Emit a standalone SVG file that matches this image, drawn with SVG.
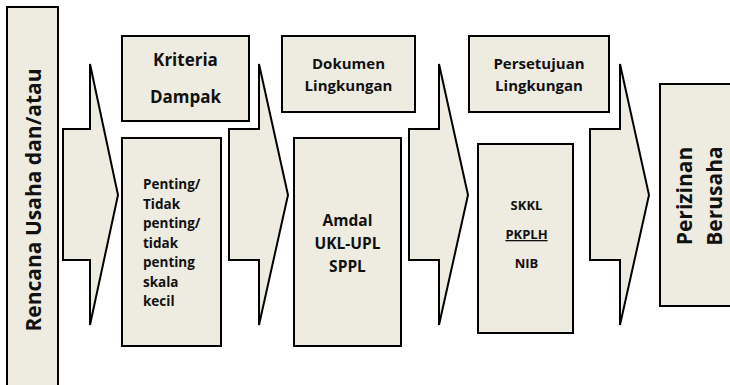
<svg xmlns="http://www.w3.org/2000/svg" width="730" height="385" viewBox="0 0 730 385">
  <style>
    .box { fill: #EEECE1; stroke: #000; stroke-width: 2; }
    .arrow { fill: #EEECE1; stroke: #000; stroke-width: 2; stroke-linejoin: miter; }
    text { font-family: "Open Sans", "Liberation Sans", sans-serif; font-weight: bold; fill: #111; }
    .c { text-anchor: middle; }
  </style>
  <rect width="730" height="385" fill="#fff"/>

  <!-- block arrows between the stages -->
  <g id="connectors">
    <path class="arrow" d="M63,129 H90 V64 L118,195 L90,325 V260 H63 Z"/>
    <path class="arrow" d="M229,129 H259 V64 L288,195 L259,325 V260 H229 Z"/>
    <path class="arrow" d="M409,129 H439 V64 L468,195 L439,325 V260 H409 Z"/>
    <path class="arrow" d="M590,129 H620 V64 L649,195 L620,325 V260 H590 Z"/>
  </g>

  <g id="rencana">
    <rect class="box" x="7" y="7" width="51" height="385"/>
    <text class="c" font-size="21" transform="translate(41,200) rotate(-90)">Rencana Usaha dan/atau</text>
  </g>

  <g id="kriteria">
    <rect class="box" x="122" y="36" width="127" height="85"/>
    <text class="c" font-size="17" x="185.5" y="66">Kriteria</text>
    <text class="c" font-size="17" x="185.5" y="103">Dampak</text>
  </g>

  <g id="penting">
    <rect class="box" x="122" y="138" width="99" height="208"/>
    <text font-size="13.5" x="143" y="189">Penting/</text>
    <text font-size="13.5" x="143" y="208.5">Tidak</text>
    <text font-size="13.5" x="143" y="228">penting/</text>
    <text font-size="13.5" x="143" y="247.5">tidak</text>
    <text font-size="13.5" x="143" y="267">penting</text>
    <text font-size="13.5" x="143" y="286.5">skala</text>
    <text font-size="13.5" x="143" y="306">kecil</text>
  </g>

  <g id="dokumen">
    <rect class="box" x="282" y="36" width="133" height="76"/>
    <text class="c" font-size="15" x="348.5" y="69">Dokumen</text>
    <text class="c" font-size="15" x="348.5" y="91">Lingkungan</text>
  </g>

  <g id="amdal">
    <rect class="box" x="294" y="138" width="107" height="208"/>
    <text class="c" font-size="15.5" x="347.5" y="226">Amdal</text>
    <text class="c" font-size="15.5" x="347.5" y="249">UKL-UPL</text>
    <text class="c" font-size="15.5" x="347.5" y="272">SPPL</text>
  </g>

  <g id="persetujuan">
    <rect class="box" x="469" y="36" width="140" height="76"/>
    <text class="c" font-size="15" x="539" y="69">Persetujuan</text>
    <text class="c" font-size="15" x="539" y="91">Lingkungan</text>
  </g>

  <g id="skkl">
    <rect class="box" x="478" y="144" width="95" height="189"/>
    <text class="c" font-size="13" x="526.5" y="210">SKKL</text>
    <text class="c" font-size="13" x="526.5" y="239" text-decoration="underline">PKPLH</text>
    <text class="c" font-size="13" x="526.5" y="268">NIB</text>
  </g>

  <g id="perizinan">
    <rect class="box" x="660" y="84" width="80" height="222"/>
    <text class="c" font-size="21" transform="translate(692,196) rotate(-90)">Perizinan</text>
    <text class="c" font-size="21" transform="translate(722,196) rotate(-90)">Berusaha</text>
  </g>
</svg>
